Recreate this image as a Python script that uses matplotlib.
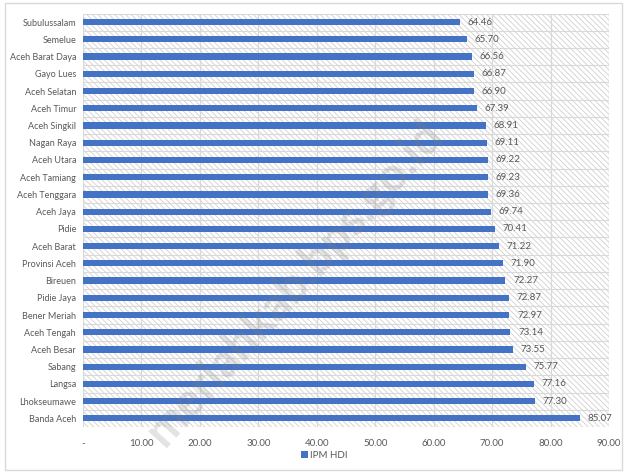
import matplotlib.pyplot as plt
from matplotlib.patches import Rectangle
import numpy as np

regions = ["Subulussalam", "Semelue", "Aceh Barat Daya", "Gayo Lues", "Aceh Selatan",
           "Aceh Timur", "Aceh Singkil", "Nagan Raya", "Aceh Utara", "Aceh Tamiang",
           "Aceh Tenggara", "Aceh Jaya", "Pidie", "Aceh Barat", "Provinsi Aceh",
           "Bireuen", "Pidie Jaya", "Bener Meriah", "Aceh Tengah", "Aceh Besar",
           "Sabang", "Langsa", "Lhokseumawe", "Banda Aceh"]
ipm = [64.46, 65.70, 66.56, 66.87, 66.90, 67.39, 68.91, 69.11, 69.22, 69.23,
       69.36, 69.74, 70.41, 71.22, 71.90, 72.27, 72.87, 72.97, 73.14, 73.55,
       75.77, 77.16, 77.30, 85.07]
xticks = [0, 10, 20, 30, 40, 50, 60, 70, 80, 90]
xticklabels = ["-", "10.00", "20.00", "30.00", "40.00", "50.00", "60.00", "70.00", "80.00", "90.00"]

plt.rcParams['font.family'] = ['Lato', 'DejaVu Sans']
plt.rcParams['hatch.linewidth'] = 0.6
plt.rcParams['hatch.color'] = '#d0d0d0'

txt = '#595959'
grid = '#d9d9d9'

fig = plt.figure(figsize=(6.25, 4.72), dpi=100)
fig.patches.append(Rectangle((5 / 625, 2 / 472), 617 / 625, 467 / 472, transform=fig.transFigure,
                             fill=False, edgecolor=grid, linewidth=1))
ax = fig.add_axes([83 / 625, 1 - 427 / 472, 526 / 625, 413.5 / 472])

n = len(regions)
y = np.arange(n)

# hatched plot area
ax.add_patch(Rectangle((0, -0.5), 90, n, facecolor='white', hatch='\\\\\\\\\\\\',
                       edgecolor='#d0d0d0', linewidth=0, zorder=0))
for b in np.arange(-0.5, n, 1):
    ax.axhline(b, color=grid, linewidth=0.8, zorder=1)
for t in xticks:
    ax.axvline(t, color=grid, linewidth=0.9, zorder=1)

ax.barh(y, ipm, height=0.36, color='#4472C4', label='IPM HDI', zorder=3)
for yi, v in zip(y, ipm):
    ax.text(v + 1.3, yi, f"{v:.2f}", va='center', ha='left', fontsize=7, color=txt, zorder=4)

ax.set_xlim(0, 90)
ax.set_ylim(n - 0.5, -0.5)
ax.set_yticks(y)
ax.set_yticklabels(regions, fontsize=6.5, color=txt)
ax.set_xticks(xticks)
ax.set_xticklabels(xticklabels, fontsize=7, color=txt)
ax.tick_params(length=0)
ax.tick_params(axis='x', pad=9)
ax.tick_params(axis='y', pad=5)
for s in ax.spines.values():
    s.set_visible(False)

fig.legend(loc='lower left', bbox_to_anchor=(292 / 625, 3 / 472), frameon=False,
           fontsize=7, labelcolor=txt, handlelength=0.7, handleheight=0.7, handletextpad=0.3)

# watermark
fig.text(0.47, 0.4, "meriahkab.bps.go.id", rotation=48, fontsize=34, fontweight='bold',
         color='#808080', alpha=0.22, ha='center', va='center', zorder=10)

plt.savefig("out.png", dpi=100)
